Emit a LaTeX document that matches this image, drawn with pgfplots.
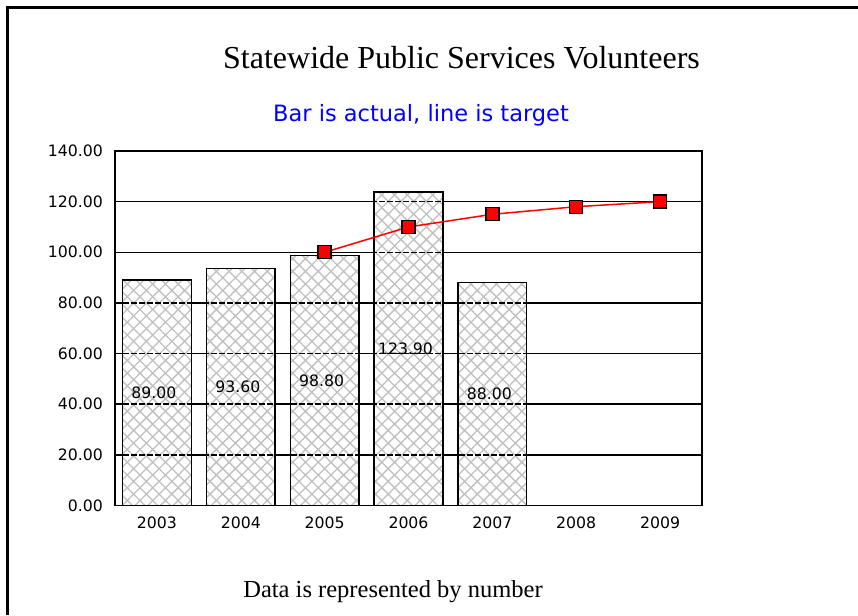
\documentclass[border=0pt]{standalone}
\usepackage{fontspec}
\setmainfont{Liberation Serif}
\newfontfamily\dejavu{DejaVu Sans}
\usepackage{pgfplots}
\pgfplotsset{compat=1.18}
\usepackage{pgfplotstable}
\usetikzlibrary{patterns.meta}

\pgfplotstableread{
x actual
0 89.00
1 93.60
2 98.80
3 123.90
4 88.00
}\actualdata
\pgfplotstableread{
x target
2 100
3 110
4 115
5 118
6 120
}\targetdata

\definecolor{hatchgray}{RGB}{192,192,192}
\definecolor{subblue}{RGB}{0,0,255}

\begin{document}
\begin{tikzpicture}
\useasboundingbox (0pt,0pt) rectangle (858pt,615pt);
\draw[line width=3pt] (7.5pt,0pt) -- (7.5pt,607.5pt) -- (858pt,607.5pt);
\node[anchor=base, inner sep=0pt, font=\fontsize{32}{36}\selectfont] at (461.5pt,546pt) {Statewide Public Services Volunteers};
\node[anchor=base, inner sep=0pt, font=\dejavu\fontsize{22.5}{26}\selectfont, text=subblue] at (421pt,493pt) {Bar is actual, line is target};
\node[anchor=base, inner sep=0pt, font=\fontsize{24.5}{30}\selectfont] at (393pt,18pt) {Data is represented by number};
\begin{axis}[
  at={(115pt,109.5pt)}, anchor=south west,
  scale only axis, width=587pt, height=354.5pt,
  xmin=-0.5, xmax=6.5, ymin=0, ymax=140,
  xtick={0,1,2,3,4,5,6},
  xticklabels={2003,2004,2005,2006,2007,2008,2009},
  ytick={0,20,40,60,80,100,120,140},
  major tick length=0pt,
  ymajorgrids,
  grid style={black, line width=1.5pt},
  axis line style={black, line width=1.5pt},
  /pgf/number format/assume math mode=true,
  yticklabel={\pgfmathprintnumber[fixed,fixed zerofill,precision=2]{\tick}},
  ticklabel style={font=\dejavu\fontsize{15.7}{18}\selectfont},
  yticklabel style={anchor=east, inner sep=0pt, xshift=-12pt},
  xticklabel style={anchor=north, inner sep=0pt, yshift=-11.5pt},
  clip=false,
]
\addplot[ybar, bar width=0.82, draw=black, line width=1.5pt,
  preaction={fill=white},
  pattern={Hatch[angle=45,distance=9pt,line width=1.3pt]},
  pattern color=hatchgray] table[x=x,y=actual]{\actualdata};
\pgfplotsinvokeforeach{20,40,60,80,100,120}{
  \addplot[forget plot, black, line width=1.5pt, dash pattern=on 6pt off 2pt] coordinates {(-0.5,#1) (6.5,#1)};
}
\addplot[red, line width=1.5pt, mark=square*, mark size=6.5pt,
  mark options={fill=red, draw=black, line width=1.3pt, solid}] table[x=x,y=target]{\targetdata};
\addplot[draw=none, mark=none, nodes near coords,
  point meta=\thisrow{actual},
  nodes near coords style={anchor=center, xshift=-3pt, font=\dejavu\fontsize{15.7}{18}\selectfont,
    /pgf/number format/.cd, fixed, fixed zerofill, precision=2}]
  table[x=x, y expr=\thisrow{actual}/2]{\actualdata};
\end{axis}
\end{tikzpicture}
\end{document}
